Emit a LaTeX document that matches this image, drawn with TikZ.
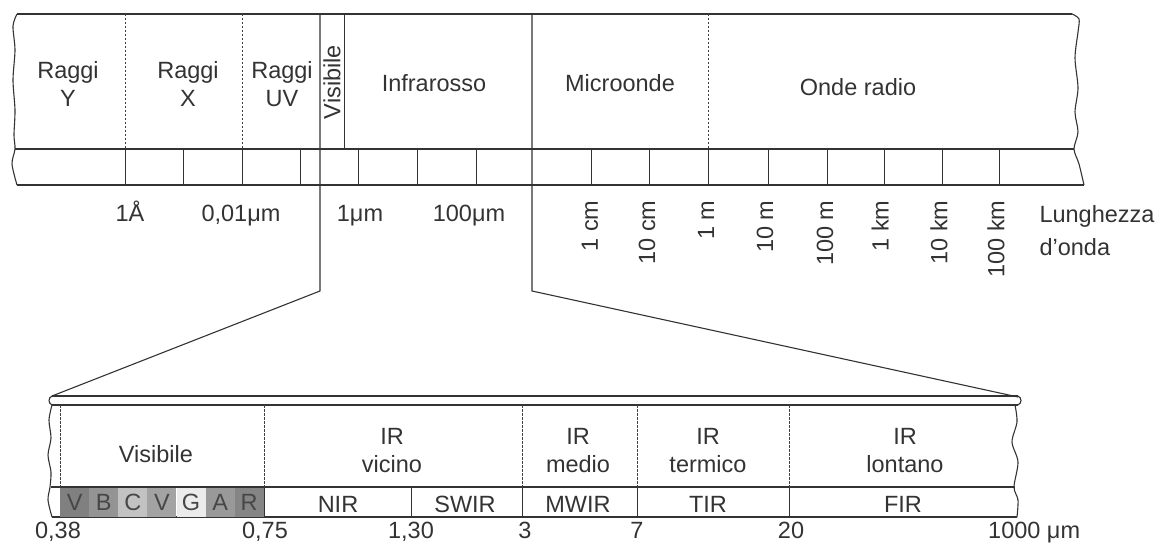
\documentclass[tikz,border=0pt]{standalone}
\usepackage{fontspec}
\setmainfont{Liberation Sans}

\begin{document}
\begin{tikzpicture}[x=1pt, y=-1pt,
  bandline/.style={draw=black!80, line width=1.1pt},
  tickline/.style={draw=black!80, line width=1pt},
  dashdiv/.style={draw=black!75, line width=0.9pt, dash pattern=on 2.5pt off 1.5pt},
  lbl/.style={font=\fontsize{23.5}{28}\selectfont, text=black!80, align=center},
  rotlbl/.style={lbl, rotate=90, anchor=east},
  cell/.style={minimum width=29pt, minimum height=29pt, inner sep=0pt,
    font=\fontsize{23.5}{28}\selectfont, text=black!72}]
  \useasboundingbox (0,0) rectangle (1162,545);

  % Spectrum band
  \draw[bandline] (17,14) -- (1072,14);
  \draw[bandline] (15,149) -- (1074,149);
  \draw[bandline] (17,185) -- (1084,185);
  \draw[bandline] plot[smooth] coordinates {(17,14) (13,26) (15,50) (13,80) (15,110) (14,135) (15,149) (12,164) (17,185)};
  \draw[bandline] plot[smooth] coordinates {(1072,14) (1079,19) (1078,32) (1075,58) (1078,88) (1075,112) (1078,132) (1074,149) (1079,164) (1084,185)};

  % Region dividers and scale ticks
  \foreach \x in {125,242,708}
    \draw[dashdiv] (\x,14) -- (\x,149);
  \draw[tickline] (344,14) -- (344,149);
  \foreach \x in {125,183,242,300,358,417,476,591,649,708,768,827,884,942,999}
    \draw[tickline] (\x,149) -- (\x,185);

  % Zoom lines
  \coordinate (visTop) at (320,14);
  \coordinate (visBend) at (320,291);
  \coordinate (irTop) at (532,14);
  \coordinate (irBend) at (532,291);
  \coordinate (zoomL) at (52,396);
  \coordinate (zoomR) at (1018,397);
  \draw[bandline] (visTop) -- (visBend) -- (zoomL);
  \draw[bandline] (irTop) -- (irBend) -- (zoomR);

  % Region labels
  \node[lbl] (gamma) at (68,84) {Raggi\\Y};
  \node[lbl] (xray) at (188,84) {Raggi\\X};
  \node[lbl] (uv) at (282,84) {Raggi\\UV};
  \node[lbl, rotate=90] (vis) at (332,82) {Visibile};
  \node[lbl] (ir) at (434,83) {Infrarosso};
  \node[lbl] (micro) at (620,83) {Microonde};
  \node[lbl] (radio) at (858,87) {Onde radio};

  % Wavelength scale
  \node[lbl, anchor=base] (wlA) at (130,222) {1Å};
  \node[lbl, anchor=base] (wlB) at (241,222) {0,01μm};
  \node[lbl, anchor=base] (wlC) at (360,222) {1μm};
  \node[lbl, anchor=base] (wlD) at (469,222) {100μm};
  \node[rotlbl] (cmA) at (590,197) {1 cm};
  \node[rotlbl] (cmB) at (647,197) {10 cm};
  \node[rotlbl] (mA) at (706,197) {1 m};
  \node[rotlbl] (mB) at (765,197) {10 m};
  \node[rotlbl] (mC) at (825,197) {100 m};
  \node[rotlbl] (kmA) at (880,197) {1 km};
  \node[rotlbl] (kmB) at (939,197) {10 km};
  \node[rotlbl] (kmC) at (996,197) {100 km};
  \node[lbl, align=left, anchor=west, font=\fontsize{23.5}{33}\selectfont] (wl) at (1036,231) {Lunghezza\\d'onda};

  % Detail band
  \draw[bandline] (52,396) -- (1018,396);
  \draw[bandline] (52,405) -- (1018,405);
  \draw[bandline] (52,396) .. controls (48,398) and (48,403) .. (52,405);
  \draw[bandline] (1018,396) .. controls (1022,398) and (1022,403) .. (1018,405);
  \draw[bandline] (51,487) -- (1015,487);
  \draw[bandline] (52,517) -- (1017,517);
  \draw[bandline] plot[smooth] coordinates {(52,405) (49,420) (51,438) (48,455) (51,472) (50,487) (48,500) (52,517)};
  \draw[bandline] plot[smooth] coordinates {(1015,405) (1017,422) (1012,442) (1018,462) (1014,487) (1018,500) (1017,517)};

  % Visible colours
  \foreach \c/\g [count=\i from 0] in {V/50,B/42,C/24,V/36,G/8,A/40,R/48}
    \node[cell, fill=black!\g] (col\i) at ({74.6+29.1*\i},502) {\c};

  \foreach \x in {60,264,522,637,789}
    \draw[dashdiv] (\x,405) -- (\x,487);
  \foreach \x in {264,411,522,637,789}
    \draw[tickline] (\x,487) -- (\x,517);

  % Detail labels
  \node[lbl, anchor=base] (visD) at (156,462) {Visibile};
  \node[lbl] (nearIR) at (392,451) {IR\\vicino};
  \node[lbl] (midIR) at (578,451) {IR\\medio};
  \node[lbl] (thIR) at (708,451) {IR\\termico};
  \node[lbl] (farIR) at (905,451) {IR\\lontano};
  \node[lbl, anchor=base] (nir) at (338,512) {NIR};
  \node[lbl, anchor=base] (swir) at (465,512) {SWIR};
  \node[lbl, anchor=base] (mwir) at (578,512) {MWIR};
  \node[lbl, anchor=base] (tir) at (708,512) {TIR};
  \node[lbl, anchor=base] (fir) at (903,512) {FIR};

  % Detail scale
  \node[lbl, anchor=base] (nA) at (58,538) {0,38};
  \node[lbl, anchor=base] (nB) at (265,538) {0,75};
  \node[lbl, anchor=base] (nC) at (411,538) {1,30};
  \node[lbl, anchor=base] (nD) at (525,538) {3};
  \node[lbl, anchor=base] (nE) at (637,538) {7};
  \node[lbl, anchor=base] (nF) at (791,538) {20};
  \node[lbl, anchor=base west, inner sep=0pt] (nG) at (988,538) {1000 μm};
\end{tikzpicture}
\end{document}
